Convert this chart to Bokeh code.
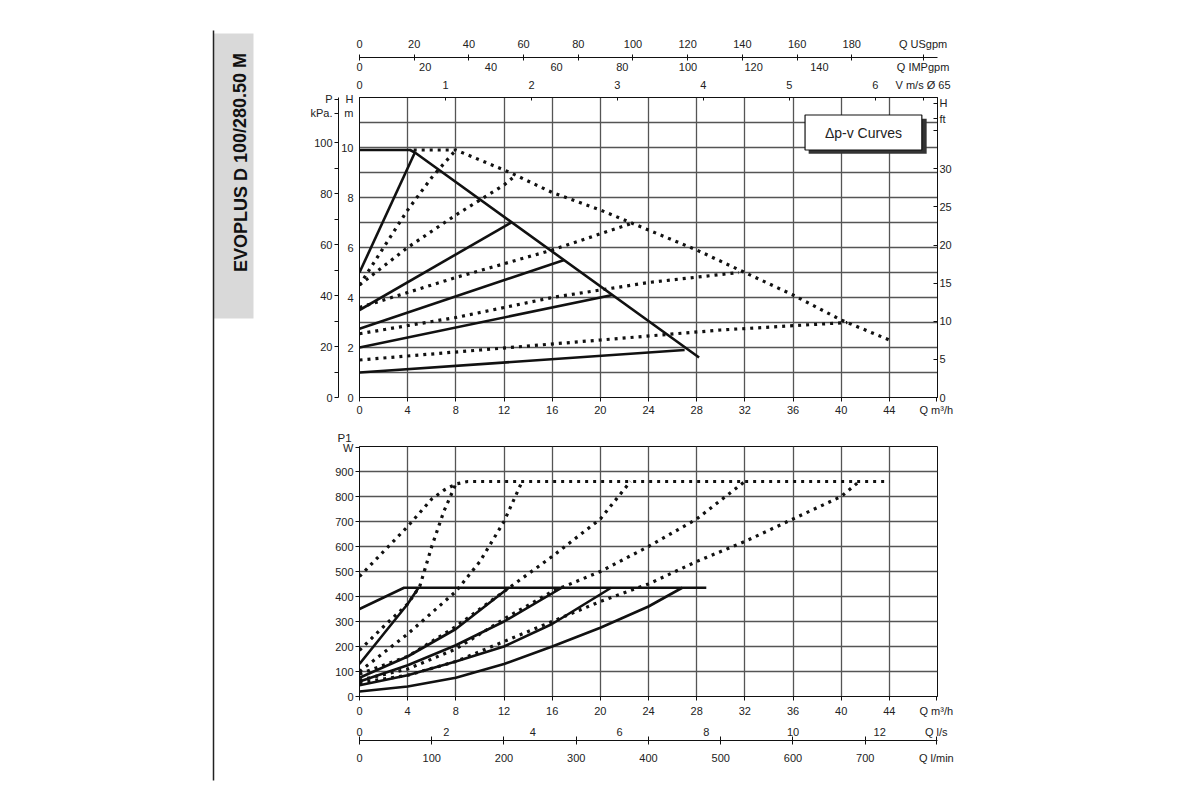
from bokeh.plotting import figure
from bokeh.models import (Range1d, LinearAxis, FixedTicker, Label, Title)
from bokeh.layouts import row, column
from bokeh.embed import file_html
from bokeh.resources import INLINE
from bokeh.core.properties import value

# ---------------- data ----------------
max_solid_q = [0, 4.2, 4.6, 28.2]
max_solid_h = [9.9, 9.9, 9.8, 1.6]
solid_lines = [
    ([0, 4.6], [5.0, 9.8]),
    ([0, 12.6], [3.5, 7.0]),
    ([0, 17.0], [2.75, 5.5]),
    ([0, 21.0], [2.0, 4.1]),
    ([0, 27.0], [1.0, 1.9]),
]
max_dot_q = [4.5, 8, 12.5, 16, 20, 23, 28, 32, 36, 40, 44]
max_dot_h = [9.9, 9.9, 9.0, 8.2, 7.5, 6.9, 5.9, 5.0, 4.1, 3.1, 2.3]
dot_lines = [
    ([0, 2, 4, 6, 8], [4.5, 6.0, 7.5, 8.8, 9.9]),
    ([0, 4, 8, 12, 13], [4.5, 6.0, 7.3, 8.5, 8.9]),
    ([0, 8, 16, 22.8], [3.6, 4.8, 5.9, 7.0]),
    ([0, 8, 16, 24, 31.5], [2.55, 3.2, 4.0, 4.6, 5.0]),
    ([0, 10, 20, 30, 40.5], [1.5, 1.9, 2.3, 2.7, 3.0]),
]

p1_max_solid_q = [0, 3.7, 28.8]
p1_max_solid_w = [350, 435, 435]
p1_solid = [
    ([0, 2, 4, 4.9], [130, 250, 370, 435]),
    ([0, 4, 8, 12.4], [75, 160, 270, 435]),
    ([0, 4, 8, 12, 16.8], [60, 125, 205, 300, 435]),
    ([0, 4, 8, 12, 16, 20.9], [45, 85, 140, 200, 290, 435]),
    ([0, 4, 8, 12, 16, 20, 24, 26.8], [20, 40, 75, 130, 200, 275, 360, 435]),
]
p1_max_dot_q = [0, 2, 4, 6, 7, 8, 9, 44]
p1_max_dot_w = [480, 580, 680, 790, 825, 850, 860, 860]
p1_dot = [
    ([0, 2, 4, 5, 6, 7, 8], [185, 280, 370, 440, 600, 740, 850]),
    ([0, 4, 8, 10, 12, 13.5], [100, 250, 420, 540, 700, 860]),
    ([0, 4, 8, 12, 16, 20, 22.5], [90, 160, 280, 420, 560, 710, 860]),
    ([0, 4, 8, 12, 16, 20, 24, 28, 32], [65, 110, 190, 310, 420, 500, 600, 710, 860]),
    ([0, 4, 8, 12, 16, 20, 24, 28, 32, 36, 40, 41.5],
     [55, 85, 140, 220, 300, 380, 450, 540, 620, 710, 800, 860]),
]

q_ticks = list(range(0, 45, 4))
usgpm_ticks = list(range(0, 181, 20))
impgpm_ticks = list(range(0, 141, 20))
v_ticks = [0, 1, 2, 3, 4, 5, 6]
kpa_ticks = list(range(0, 101, 10))
h_ticks = [0, 2, 4, 6, 8, 10]
ft_ticks = [0, 5, 10, 15, 20, 25, 30, 35]
ls_ticks = list(range(0, 13, 2))
lmin_ticks = list(range(0, 701, 100))
w_ticks = list(range(0, 901, 100))

FONT = "Liberation Sans"
TC = "#222222"
GRID = "#555555"

LEFT_W = 279
US_PER_M3H = 4.403
IMP_PER_M3H = 3.666
M3H_PER_MS = 7.14
LS_PER_M3H = 0.27778
LMIN_PER_M3H = 16.667
KPA_PER_M = 9.81
FT_PER_M = 3.2808
QL = 46.8
QB = 47.9

def style_axis(ax, size="11px"):
    ax.major_label_text_font = FONT
    ax.major_label_text_font_size = size
    ax.major_label_text_color = TC
    ax.axis_line_color = "#111111"
    ax.major_tick_line_color = "#111111"
    ax.minor_tick_line_color = None
    ax.major_tick_in = 0
    ax.major_tick_out = 4
    ax.major_label_standoff = 2

def fmt(t):
    return str(int(t)) if float(t).is_integer() else str(t)

def named_ticker(ax, ticks, extra):
    allt = list(ticks) + list(extra.keys())
    ax.ticker = FixedTicker(ticks=allt)
    ov = {t: fmt(t) for t in ticks}
    ov.update(extra)
    ax.major_label_overrides = ov

# ---------------- upper figure ----------------
top = figure(frame_width=578, frame_height=300, x_range=Range1d(0, 48), y_range=Range1d(0, 12),
             output_backend="svg", toolbar_location=None,
             min_border_left=80, min_border_right=80, min_border_top=97, min_border_bottom=14)
top.outline_line_color = "#111111"
top.extra_x_ranges = {"us": Range1d(0, 48 * US_PER_M3H), "imp": Range1d(0, 48 * IMP_PER_M3H),
                      "v": Range1d(0, 48 / M3H_PER_MS)}
top.extra_y_ranges = {"kpa": Range1d(0, 12 * KPA_PER_M), "ft": Range1d(0, 12 * FT_PER_M)}

for ax in top.xaxis + top.yaxis:
    style_axis(ax)
named_ticker(top.xaxis[0], q_ticks, {QB: "Q m³/h"})
named_ticker(top.yaxis[0], h_ticks, {11.4: "m", 11.95: "H"})
top.yaxis.major_tick_out = 0
top.yaxis.major_label_standoff = 6
top.xgrid.ticker = FixedTicker(ticks=q_ticks)
top.ygrid.ticker = FixedTicker(ticks=list(range(0, 13)))
top.xgrid.grid_line_color = GRID
top.ygrid.grid_line_color = GRID
top.xgrid.grid_line_width = 1.3
top.ygrid.grid_line_width = 1.3

kpa = LinearAxis(y_range_name="kpa")
style_axis(kpa)
named_ticker(kpa, kpa_ticks, {111.6: "kPa.", 117.1: "P"})
kpa.major_label_overrides = {**{t: (str(t) if t % 20 == 0 else "") for t in kpa_ticks},
                             111.6: "kPa.", 117.1: "P"}
top.add_layout(kpa, "left")

ft = LinearAxis(y_range_name="ft")
style_axis(ft)
named_ticker(ft, ft_ticks, {36.6: "ft", 38.6: "H"})
ft.major_label_overrides = {**{t: str(t) for t in ft_ticks}, 35: "", 36.6: "ft", 38.6: "H"}
ft.major_tick_in = 4
ft.major_tick_out = 0
top.add_layout(ft, "right")

vax = LinearAxis(x_range_name="v")
style_axis(vax)
named_ticker(vax, v_ticks, {QL / M3H_PER_MS: "V m/s Ø 65"})
vax.major_tick_in = 3
vax.major_tick_out = 0
vax.major_label_standoff = 7
top.add_layout(vax, "above")
imp = LinearAxis(x_range_name="imp")
style_axis(imp)
named_ticker(imp, impgpm_ticks, {QL * IMP_PER_M3H: "Q IMPgpm"})
imp.axis_line_color = None
imp.major_tick_line_color = None
imp.major_tick_out = 0
imp.major_label_standoff = 3
top.add_layout(imp, "above")
us = LinearAxis(x_range_name="us")
style_axis(us)
named_ticker(us, usgpm_ticks, {QL * US_PER_M3H: "Q USgpm"})
us.major_tick_in = 3
us.major_tick_out = 3
us.major_label_standoff = 5
top.add_layout(us, "above")

top.line(max_solid_q, max_solid_h, line_color="#111111", line_width=2.6)
for xs, ys in solid_lines:
    top.line(xs, ys, line_color="#111111", line_width=2.6)
top.line(max_dot_q, max_dot_h, line_color="#111111", line_width=3.2, line_dash="3 5")
for xs, ys in dot_lines:
    top.line(xs, ys, line_color="#111111", line_width=3.2, line_dash="3 5")

top.quad(left=[37.3], right=[47.1], top=[11.15], bottom=[9.75], fill_color="#333333", line_color=None)
top.quad(left=[37.0], right=[46.7], top=[11.3], bottom=[9.9], fill_color="white",
         line_color="#111111", line_width=1.2)
top.add_layout(Label(x=41.85, y=10.6, text="Δp-v Curves", text_font=FONT, text_font_size="14px",
                     text_color=TC, text_align="center", text_baseline="middle"))

# ---------------- lower figure ----------------
bot = figure(frame_width=578, frame_height=250, x_range=Range1d(0, 48), y_range=Range1d(0, 1000),
             output_backend="svg", toolbar_location=None,
             min_border_left=80, min_border_right=80, min_border_top=28, min_border_bottom=20)
bot.outline_line_color = "#111111"
bot.extra_x_ranges = {"ls": Range1d(0, 48 * LS_PER_M3H), "lmin": Range1d(0, 48 * LMIN_PER_M3H)}
for ax in bot.xaxis + bot.yaxis:
    style_axis(ax)
named_ticker(bot.xaxis[0], q_ticks, {QB: "Q m³/h"})
named_ticker(bot.yaxis[0], w_ticks, {995: "W"})
bot.xaxis.major_label_standoff = 4
bot.xgrid.ticker = FixedTicker(ticks=q_ticks)
bot.ygrid.ticker = FixedTicker(ticks=w_ticks)
bot.xgrid.grid_line_color = GRID
bot.ygrid.grid_line_color = GRID
bot.xgrid.grid_line_width = 1.3
bot.ygrid.grid_line_width = 1.3

lsax = LinearAxis(x_range_name="ls")
style_axis(lsax)
named_ticker(lsax, ls_ticks, {QB * LS_PER_M3H: "Q l/s"})
lsax.axis_line_color = None
lsax.major_tick_line_color = None
lsax.major_tick_out = 0
lsax.major_label_standoff = 6
bot.add_layout(lsax, "below")
lmax = LinearAxis(x_range_name="lmin")
style_axis(lmax)
named_ticker(lmax, lmin_ticks, {QB * LMIN_PER_M3H: "Q l/min"})
lmax.major_tick_in = 4
lmax.major_label_standoff = 7
bot.add_layout(lmax, "below")

bot.add_layout(Title(text="P1", align="left", offset=-22, text_font=FONT, text_font_size="11.5px",
                     text_color=TC, text_font_style="normal", standoff=5), "above")

bot.line(p1_max_solid_q, p1_max_solid_w, line_color="#111111", line_width=2.6)
for xs, ys in p1_solid:
    bot.line(xs, ys, line_color="#111111", line_width=2.6)
bot.line(p1_max_dot_q, p1_max_dot_w, line_color="#111111", line_width=3.2, line_dash="3 5")
for xs, ys in p1_dot:
    bot.line(xs, ys, line_color="#111111", line_width=3.2, line_dash="3 5")

H_TOTAL = 790
left = figure(width=LEFT_W, height=H_TOTAL, x_range=Range1d(0, LEFT_W), y_range=Range1d(H_TOTAL, 0),
              output_backend="svg", toolbar_location=None, min_border=0)
left.axis.visible = False
left.grid.visible = False
left.outline_line_color = None
left.quad(left=[213], right=[253], top=[33], bottom=[318], fill_color="#d9d9d9", line_color=None)
left.segment(x0=[213], y0=[30], x1=[213], y1=[780], line_color="#222222", line_width=1.5)
left.text(x=[240], y=[162], text=["EVOPLUS D 100/280.50 M"], angle=1.5708,
          text_font=value("Liberation Sans"), text_font_style="bold",
          text_font_size="18px", text_color="#111111", text_align="center", text_baseline="middle")

layout = row(left, column(top, bot))
open("out.html", "w").write(file_html(layout, INLINE))
